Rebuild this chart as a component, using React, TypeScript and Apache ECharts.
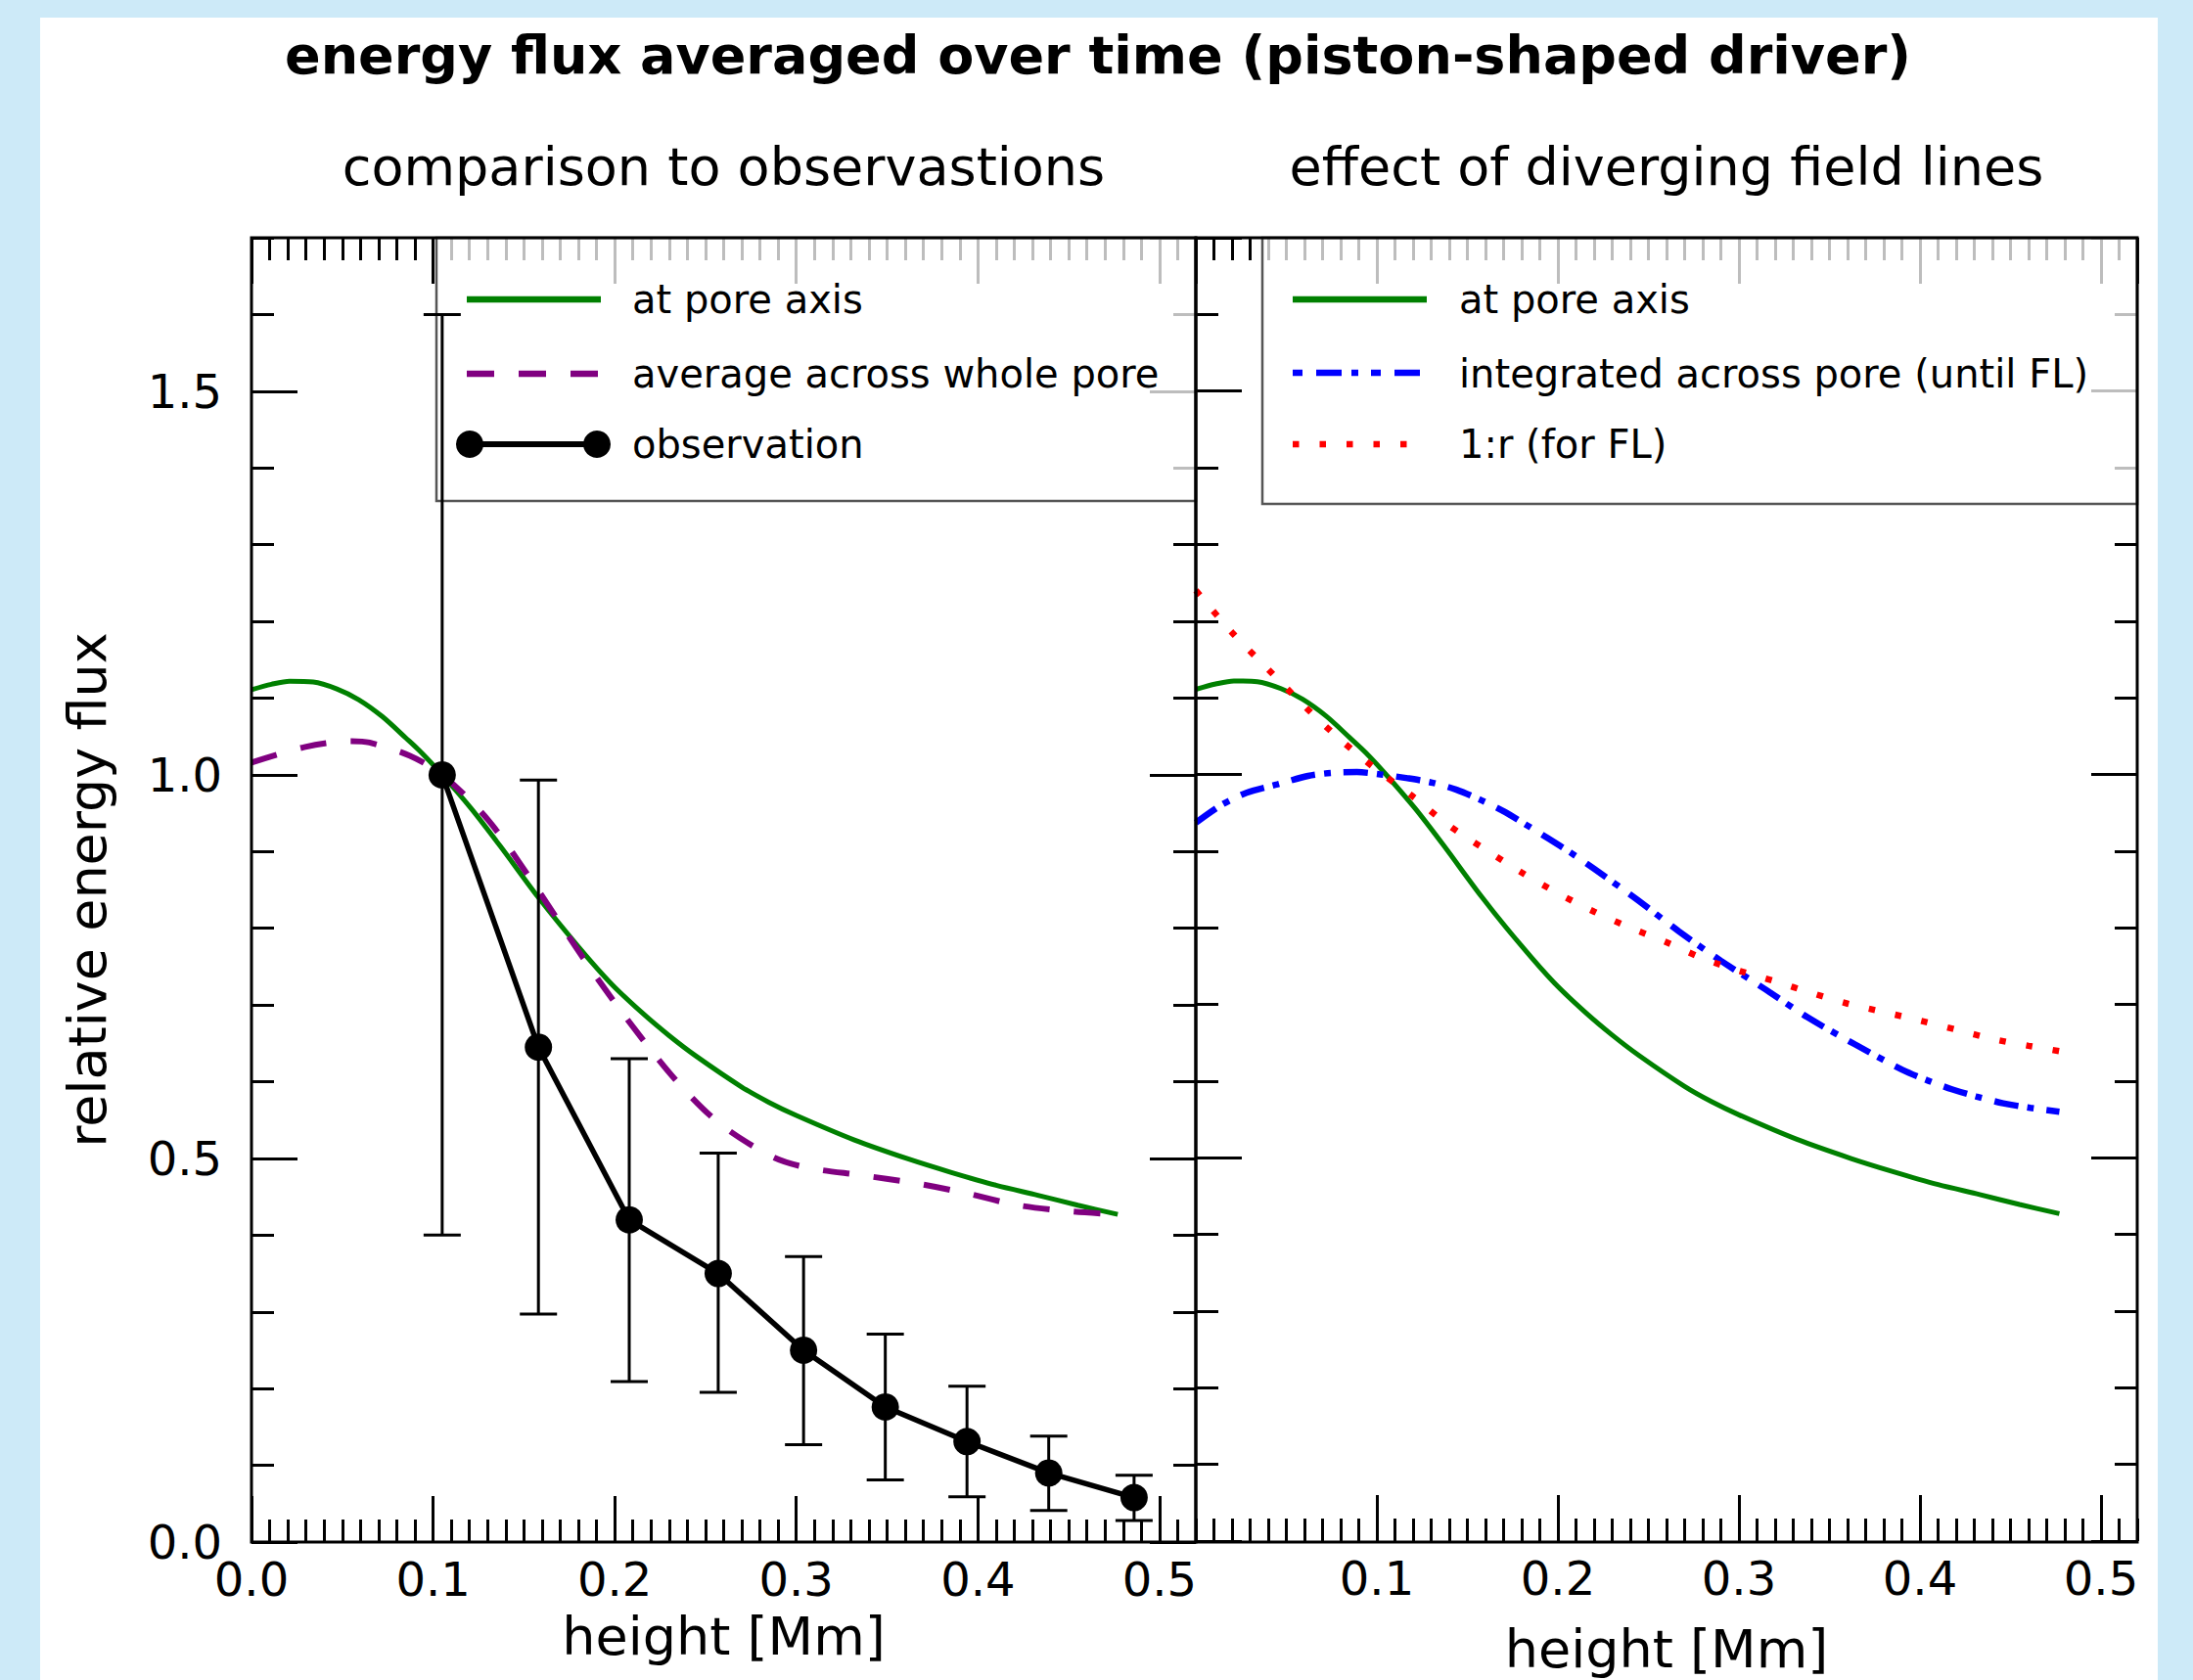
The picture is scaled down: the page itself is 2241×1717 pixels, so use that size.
import React, { useEffect, useRef } from 'react';
import * as echarts from 'echarts';

// ---------------- data ----------------
const poreAxisX = [0, 0.011, 0.021, 0.034, 0.047, 0.059, 0.072, 0.085, 0.094, 0.105, 0.121, 0.137, 0.158, 0.18, 0.198, 0.215, 0.23, 0.245, 0.27, 0.285, 0.3, 0.332, 0.362, 0.385, 0.41, 0.433, 0.455, 0.477];
const poreAxisY = [1.111, 1.118, 1.122, 1.121, 1.112, 1.098, 1.076, 1.048, 1.028, 1.0, 0.956, 0.907, 0.84, 0.776, 0.728, 0.69, 0.66, 0.633, 0.593, 0.573, 0.556, 0.524, 0.499, 0.482, 0.465, 0.452, 0.439, 0.427];

const poreAvgX = [0, 0.029, 0.055, 0.065, 0.087, 0.105, 0.13, 0.154, 0.183, 0.207, 0.234, 0.258, 0.287, 0.306, 0.336, 0.365, 0.393, 0.422, 0.451, 0.476];
const poreAvgY = [1.016, 1.036, 1.044, 1.042, 1.025, 1.0, 0.942, 0.863, 0.76, 0.681, 0.601, 0.545, 0.502, 0.488, 0.478, 0.468, 0.455, 0.439, 0.431, 0.427];

const obsX = [0.105, 0.158, 0.208, 0.257, 0.304, 0.349, 0.394, 0.439, 0.486];
const obsY = [1.0, 0.645, 0.42, 0.35, 0.25, 0.176, 0.131, 0.09, 0.058];
const obsLow = [0.4, 0.297, 0.209, 0.195, 0.127, 0.081, 0.059, 0.041, 0.028];
const obsHigh = [1.6, 0.993, 0.63, 0.507, 0.372, 0.271, 0.203, 0.138, 0.087];

const integratedX = [0, 0.014, 0.028, 0.045, 0.062, 0.075, 0.089, 0.102, 0.117, 0.131, 0.144, 0.158, 0.17, 0.182, 0.195, 0.207, 0.22, 0.243, 0.267, 0.29, 0.315, 0.338, 0.364, 0.39, 0.404, 0.418, 0.431, 0.446, 0.461, 0.477];
const integratedY = [0.937, 0.96, 0.976, 0.987, 0.998, 1.002, 1.003, 1.0, 0.995, 0.989, 0.98, 0.966, 0.952, 0.935, 0.916, 0.898, 0.877, 0.838, 0.795, 0.757, 0.719, 0.683, 0.648, 0.615, 0.601, 0.589, 0.58, 0.571, 0.565, 0.56];

const invRX = [0, 0.02, 0.04, 0.06, 0.08, 0.1, 0.12, 0.14, 0.16, 0.18, 0.2, 0.22, 0.24, 0.26, 0.28, 0.3, 0.32, 0.34, 0.36, 0.38, 0.4, 0.42, 0.44, 0.46, 0.477];
const invRY = [1.24, 1.185, 1.137, 1.089, 1.045, 1.006, 0.971, 0.933, 0.902, 0.872, 0.845, 0.821, 0.8, 0.781, 0.76, 0.744, 0.73, 0.715, 0.701, 0.69, 0.679, 0.667, 0.655, 0.646, 0.639];

const X_MAX = 0.52;
const Y_MAX = 1.7;
const X_MAJOR = 0.1;
const X_MINOR = 0.01;
const Y_MAJOR = 0.5;
const Y_MINOR = 0.1;

const mainTitle = 'energy flux averaged over time (piston-shaped driver)';
const leftTitle = 'comparison to observastions';
const rightTitle = 'effect of diverging field lines';
const xName = 'height [Mm]';
const yName = 'relative energy flux';
const leftLegend = ['at pore axis', 'average across whole pore', 'observation'];
const rightLegend = ['at pore axis', 'integrated across pore (until FL)', '1:r (for FL)'];

// ---------------- layout ----------------
const W = 2241;
const H = 1717;
const FONT = 'DejaVu Sans';
const GL = { left: 257, top: 243, width: 965, height: 1333 };
const GR = { left: 1222, top: 243, width: 962, height: 1333 };

const GREEN = '#008000';
const PURPLE = '#800080';
const BLUE = '#0000ff';
const RED = '#ff0000';

const pairs = (xs: number[], ys: number[]) => xs.map((x, i) => [x, ys[i]]);

function xAx(gridIndex: number, position: string, step: number, len: number, extra: any = {}) {
  return {
    type: 'value', gridIndex, position, min: 0, max: X_MAX, interval: step,
    axisLine: { show: false, onZero: false },
    axisTick: { show: true, inside: true, length: len, lineStyle: { color: '#000', width: 3 } },
    axisLabel: { show: false },
    splitLine: { show: false },
    ...extra,
  };
}
function yAx(gridIndex: number, position: string, step: number, len: number, extra: any = {}) {
  return {
    type: 'value', gridIndex, position, min: 0, max: Y_MAX, interval: step,
    axisLine: { show: false, onZero: false },
    axisTick: { show: true, inside: true, length: len, lineStyle: { color: '#000', width: 3 } },
    axisLabel: { show: false },
    splitLine: { show: false },
    ...extra,
  };
}

const xLabel = (showMin: boolean) => ({
  show: true, fontSize: 48, color: '#000', fontFamily: FONT, margin: 14,
  formatter: (v: number) => v.toFixed(1), showMaxLabel: false, showMinLabel: showMin,
});

const xAxes = [
  xAx(0, 'bottom', X_MAJOR, 47, { axisLabel: xLabel(true), name: xName, nameLocation: 'middle', nameGap: 69, nameTextStyle: { fontSize: 54, color: '#000', fontFamily: FONT } }),
  xAx(0, 'bottom', X_MINOR, 23),
  xAx(0, 'top', X_MAJOR, 47),
  xAx(0, 'top', X_MINOR, 23),
  xAx(1, 'bottom', X_MAJOR, 47, { axisLabel: xLabel(false), name: xName, nameLocation: 'middle', nameGap: 83, nameTextStyle: { fontSize: 54, color: '#000', fontFamily: FONT } }),
  xAx(1, 'bottom', X_MINOR, 23),
  xAx(1, 'top', X_MAJOR, 47),
  xAx(1, 'top', X_MINOR, 23),
];
const yAxes = [
  yAx(0, 'left', Y_MAJOR, 47, {
    axisLabel: { show: true, fontSize: 48, color: '#000', fontFamily: FONT, margin: 30, formatter: (v: number) => v.toFixed(1), showMaxLabel: false },
    name: yName, nameLocation: 'middle', nameGap: 141, nameTextStyle: { fontSize: 54, color: '#000', fontFamily: FONT },
  }),
  yAx(0, 'left', Y_MINOR, 23),
  yAx(0, 'right', Y_MAJOR, 47),
  yAx(0, 'right', Y_MINOR, 23),
  yAx(1, 'left', Y_MAJOR, 47),
  yAx(1, 'left', Y_MINOR, 23),
  yAx(1, 'right', Y_MAJOR, 47),
  yAx(1, 'right', Y_MINOR, 23),
];

const errorData = obsX.map((x, i) => [x, obsLow[i], obsHigh[i]]);

const series: any[] = [
  {
    name: 'at pore axis', type: 'line', xAxisIndex: 0, yAxisIndex: 0, data: pairs(poreAxisX, poreAxisY),
    showSymbol: false, symbol: 'none', smooth: 0.3, lineStyle: { color: GREEN, width: 5 }, z: 2,
  },
  {
    name: 'average across whole pore', type: 'line', xAxisIndex: 0, yAxisIndex: 0, data: pairs(poreAvgX, poreAvgY),
    showSymbol: false, symbol: 'none', smooth: 0.3, lineStyle: { color: PURPLE, width: 6, type: [27, 25] }, z: 2,
  },
  {
    name: 'observation error', type: 'custom', xAxisIndex: 0, yAxisIndex: 0, data: errorData,
    encode: { x: 0, y: [1, 2] }, z: 3,
    renderItem: (params: any, api: any) => {
      const x = api.value(0);
      const lo = api.coord([x, api.value(1)]);
      const hi = api.coord([x, api.value(2)]);
      const cap = 19;
      const st = { stroke: '#000', lineWidth: 3 };
      return {
        type: 'group',
        children: [
          { type: 'line', shape: { x1: lo[0], y1: lo[1], x2: hi[0], y2: hi[1] }, style: st },
          { type: 'line', shape: { x1: lo[0] - cap, y1: lo[1], x2: lo[0] + cap, y2: lo[1] }, style: st },
          { type: 'line', shape: { x1: hi[0] - cap, y1: hi[1], x2: hi[0] + cap, y2: hi[1] }, style: st },
        ],
      };
    },
  },
  {
    name: 'observation', type: 'line', xAxisIndex: 0, yAxisIndex: 0, data: pairs(obsX, obsY),
    symbol: 'circle', symbolSize: 28, itemStyle: { color: '#000' }, lineStyle: { color: '#000', width: 5.5 }, z: 3,
  },
  {
    name: 'at pore axis (right)', type: 'line', xAxisIndex: 4, yAxisIndex: 4, data: pairs(poreAxisX, poreAxisY),
    showSymbol: false, symbol: 'none', smooth: 0.3, lineStyle: { color: GREEN, width: 5 }, z: 2,
  },
  {
    name: 'integrated across pore (until FL)', type: 'line', xAxisIndex: 4, yAxisIndex: 4, data: pairs(integratedX, integratedY),
    showSymbol: false, symbol: 'none', smooth: 0.3, lineStyle: { color: BLUE, width: 6.5, type: [25, 9, 7, 13] }, z: 2,
  },
  {
    name: '1:r (for FL)', type: 'line', xAxisIndex: 4, yAxisIndex: 4, data: pairs(invRX, invRY),
    showSymbol: false, symbol: 'none', smooth: 0.3, lineStyle: { color: RED, width: 6.5, type: [6.5, 21] }, z: 2,
  },
];

// ---------------- legend boxes (graphic) ----------------
const LEG_Y = [306, 382, 454];
function legendBox(x: number, y: number, w: number, h: number) {
  return {
    type: 'rect', z: 3, silent: true,
    shape: { x, y, width: w, height: h },
    style: { fill: 'rgba(255,255,255,0.74)', stroke: '#555', lineWidth: 2.5 },
  };
}
function legendText(x: number, y: number, text: string) {
  return {
    type: 'text', z: 4, silent: true, x, y,
    style: { text, fontSize: 40, fontFamily: FONT, fill: '#000', verticalAlign: 'middle', align: 'left' },
  };
}
function legendLine(x1: number, x2: number, y: number, color: string, width: number, dash?: number[]) {
  const style: any = { stroke: color, lineWidth: width };
  if (dash) style.lineDash = dash;
  return { type: 'line', z: 4, silent: true, shape: { x1, y1: y, x2, y2: y }, style };
}

const graphics: any[] = [
  { type: 'rect', z: -10, silent: true, shape: { x: 41, y: 18, width: 2164, height: 1699 }, style: { fill: '#ffffff' } },
  // left legend
  legendBox(446, GL.top, GL.left + GL.width - 446, 269),
  legendLine(477, 614, LEG_Y[0], GREEN, 6.5),
  legendLine(477, 614, LEG_Y[1], PURPLE, 6.5, [28, 25]),
  legendLine(480, 610, LEG_Y[2], '#000', 6),
  { type: 'circle', z: 4, silent: true, shape: { cx: 480, cy: LEG_Y[2], r: 14 }, style: { fill: '#000' } },
  { type: 'circle', z: 4, silent: true, shape: { cx: 610, cy: LEG_Y[2], r: 14 }, style: { fill: '#000' } },
  legendText(646, LEG_Y[0], leftLegend[0]),
  legendText(646, LEG_Y[1], leftLegend[1]),
  legendText(646, LEG_Y[2], leftLegend[2]),
  // right legend
  legendBox(1290, GR.top, GR.left + GR.width - 1290, 272),
  legendLine(1321, 1458, LEG_Y[0], GREEN, 6.5),
  legendLine(1321, 1458, LEG_Y[1] - 1, BLUE, 6.5, [10, 14, 26, 10, 7, 13]),
  legendLine(1321, 1458, LEG_Y[2], RED, 6.5, [6.5, 21]),
  legendText(1491, LEG_Y[0], rightLegend[0]),
  legendText(1491, LEG_Y[1], rightLegend[1]),
  legendText(1491, LEG_Y[2], rightLegend[2]),
  // frames
  { type: 'rect', z: 6, silent: true, shape: { x: GL.left, y: GL.top, width: GL.width, height: GL.height }, style: { fill: 'none', stroke: '#000', lineWidth: 3 } },
  { type: 'rect', z: 6, silent: true, shape: { x: GR.left, y: GR.top, width: GR.width, height: GR.height }, style: { fill: 'none', stroke: '#000', lineWidth: 3 } },
];

const option: any = {
  animation: false,
  backgroundColor: '#cdeaf8',
  title: [
    { text: mainTitle, left: 1122, top: 56, padding: 0, textAlign: 'center', textVerticalAlign: 'middle', textStyle: { fontSize: 54, fontWeight: 'bold', fontFamily: FONT, color: '#000' } },
    { text: leftTitle, left: GL.left + GL.width / 2, top: 170, padding: 0, textAlign: 'center', textVerticalAlign: 'middle', textStyle: { fontSize: 54, fontWeight: 'normal', fontFamily: FONT, color: '#000' } },
    { text: rightTitle, left: GR.left + GR.width / 2, top: 170, padding: 0, textAlign: 'center', textVerticalAlign: 'middle', textStyle: { fontSize: 54, fontWeight: 'normal', fontFamily: FONT, color: '#000' } },
  ],
  grid: [
    { left: GL.left, top: GL.top, width: GL.width, height: GL.height, containLabel: false },
    { left: GR.left, top: GR.top, width: GR.width, height: GR.height, containLabel: false },
  ],
  xAxis: xAxes,
  yAxis: yAxes,
  series,
  graphic: graphics,
};

export default function App() {
  const ref = useRef<HTMLDivElement>(null);
  useEffect(() => {
    if (!ref.current) return;
    const chart = echarts.init(ref.current, null, { renderer: 'svg' });
    chart.setOption(option);
    return () => chart.dispose();
  }, []);
  return <div ref={ref} style={{ position: 'absolute', left: 0, top: 0, width: W, height: H }} />;
}
